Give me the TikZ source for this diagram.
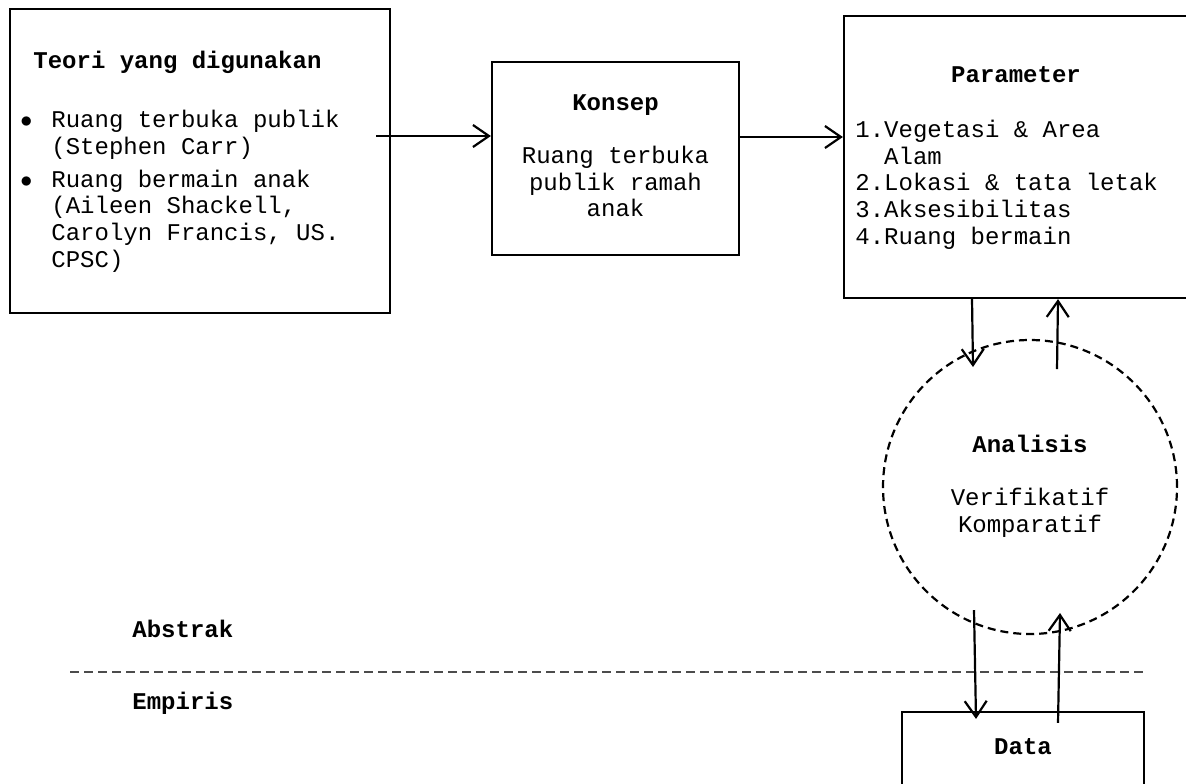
\documentclass[tikz,border=0pt]{standalone}
\usepackage{fontspec}
\setmainfont{Liberation Mono}
\usepackage{tikz}
\usetikzlibrary{arrows.meta,calc}

\begin{document}
\begin{tikzpicture}[x=0.5pt, y=-0.5pt, >={Straight Barb[length=8pt,width=11pt]}]
			\tikzstyle{box} = [draw, line width=1.1pt, inner sep=0pt]
			\tikzstyle{ring} = [draw, line width=1.1pt, dash pattern=on 4pt off 2.5pt, circle, inner sep=0pt, minimum size=147pt]
			\tikzstyle{txt} = [inner sep=0pt, font=\fontsize{12}{13.3}\selectfont]
			\useasboundingbox (0,0) rectangle (1186,783);

			\path
			node[box, minimum width=190pt, minimum height=152pt] (teori) at (200,161) {}
			node[box, minimum width=123.5pt, minimum height=96.5pt] (konsep) at (615.5,158.5) {}
			node[box, minimum width=176pt, minimum height=141pt] (param) at (1020,157) {}
			node[ring] (analisis) at (1030,487) {}
			node[box, minimum width=121pt, minimum height=44pt] (data) at (1023,756) {}
			;

			% multi-line texts sit on the baseline of their last line
			\node[txt, anchor=base west] (teorihead) at (33,68) {\textbf{Teori yang digunakan}};
			\node[txt, anchor=base west, align=left] (teori1) at (51,154) {\llap{$\bullet$\hspace{9.5pt}}Ruang terbuka publik\\(Stephen Carr)};
			\node[txt, anchor=base west, align=left] (teori2) at (51,267) {\llap{$\bullet$\hspace{9.5pt}}Ruang bermain anak\\(Aileen Shackell,\\Carolyn Francis, US.\\CPSC)};
			\node[txt, anchor=base] (konsephead) at (615.5,110.7) {\textbf{Konsep}};
			\node[txt, anchor=base, align=center] (konsepbody) at (615.5,216.7) {Ruang terbuka\\publik ramah\\anak};
			\node[txt, anchor=base] (paramhead) at (1016,82) {\textbf{Parameter}};
			\node[txt, anchor=base west, align=left] (parambody) at (855,244) {1.Vegetasi \& Area\\\hspace*{14.4pt}Alam\\2.Lokasi \& tata letak\\3.Aksesibilitas\\4.Ruang bermain};
			\node[txt, anchor=base] (analisishead) at (1030,452) {\textbf{Analisis}};
			\node[txt, anchor=base, align=center] (analisisbody) at (1030,532) {Verifikatif\\Komparatif};
			\node[txt, anchor=base] (datahead) at (1023,754) {\textbf{Data}};
			\node[txt, anchor=base west] (abstrak) at (132,637) {\textbf{Abstrak}};
			\node[txt, anchor=base west] (empiris) at (132,709) {\textbf{Empiris}};

			\draw[line width=0.6pt, black!70, dash pattern=on 4.5pt off 2.5pt] (70,672) -- (1145,672);

			\coordinate (t1) at ([xshift=-7.5pt, yshift=12.5pt]teori.east);
			\coordinate (k1) at ([yshift=10.75pt]konsep.east);
			\path[->, line width=1.1pt]
			(t1) edge (t1 -| konsep.west)
			(k1) edge (k1 -| param.west)
			([xshift=-24pt]param.south) edge ($(analisis.center)+(-57,-120)$)
			($(analisis.center)+(27,-118)$) edge ([xshift=19pt]param.south)
			($(analisis.center)+(-56,123)$) edge ([xshift=-23.5pt, yshift=-4pt]data.north)
			([xshift=17.5pt, yshift=-6pt]data.north) edge ($(analisis.center)+(30,126)$)
			;
\end{tikzpicture}
\end{document}
